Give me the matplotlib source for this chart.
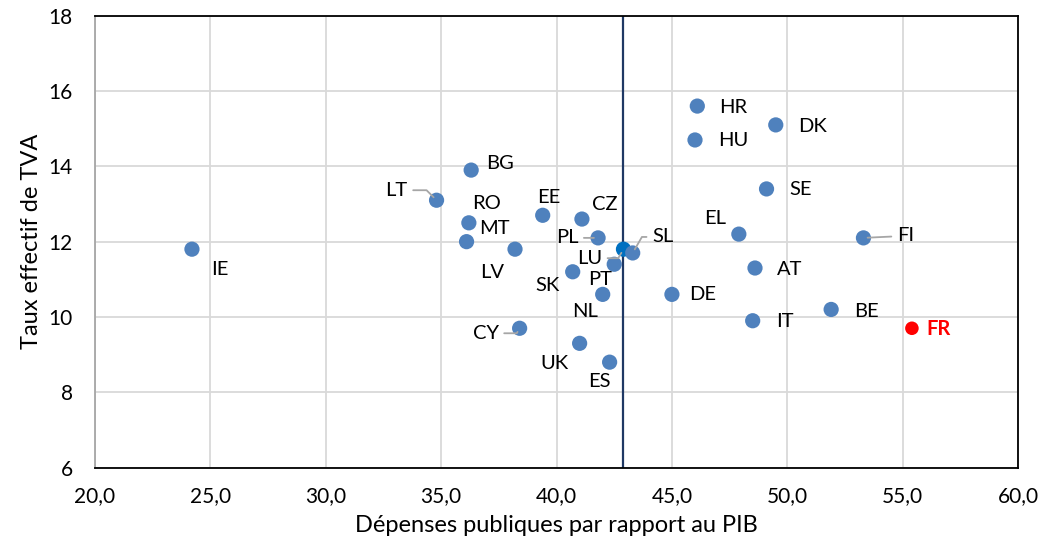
import matplotlib
matplotlib.use('Agg')

import matplotlib.pyplot as plt
from matplotlib.ticker import FuncFormatter, MultipleLocator

# Countries, public spending (% GDP) and effective VAT rate
countries = ['IE', 'LT', 'BG', 'RO', 'MT', 'LV', 'EE', 'CZ', 'PL', 'LU',
             'SL', 'PT', 'SK', 'NL', 'DE', 'CY', 'UK', 'ES', 'HR', 'HU',
             'DK', 'SE', 'EL', 'FI', 'AT', 'BE', 'IT', 'FR']
depenses = [24.2, 34.8, 36.3, 36.2, 36.1, 38.2, 39.4, 41.1, 41.8, 42.9,
            43.3, 42.5, 40.7, 42.0, 45.0, 38.4, 41.0, 42.3, 46.1, 46.0,
            49.5, 49.1, 47.9, 53.3, 48.6, 51.9, 48.5, 55.4]
taux_tva = [11.8, 13.1, 13.9, 12.5, 12.0, 11.8, 12.7, 12.6, 12.1, 11.8,
            11.7, 11.4, 11.2, 10.6, 10.6, 9.7, 9.3, 8.8, 15.6, 14.7,
            15.1, 13.4, 12.2, 12.1, 11.3, 10.2, 9.9, 9.7]
moyenne_ue = 42.9

# label offsets in pixels (dx, dy with dy downward), leader line angle at the point (None = no line)
label_offsets = {
    'IE': (28, 20, None), 'LT': (-40, -10, -45), 'BG': (29, -7, None),
    'RO': (18, -19, None), 'MT': (28, -13, None), 'LV': (-23, 23, None),
    'EE': (6, -18, None), 'CZ': (23, -15, None), 'PL': (-31, 0, 'straight'),
    'LU': (-34, 9, 60), 'SL': (30, -16, 60), 'PT': (-14, 15, None),
    'SK': (-25, 14, None), 'NL': (-18, 17, None), 'DE': (31, 0, None),
    'CY': (-34, 5, 60), 'UK': (-25, 20, None), 'ES': (-10, 19, None),
    'HR': (36, 1, None), 'HU': (38, 1, None), 'DK': (37, 2, None),
    'SE': (34, 1, None), 'EL': (-24, -16, None), 'FI': (42, -2, 'straight'),
    'AT': (35, 1, None), 'BE': (35, 2, None), 'IT': (32, 1, None),
    'FR': (27, 1, None),
}

plt.rcParams['font.family'] = ['Lato', 'DejaVu Sans']

fig = plt.figure(figsize=(10.49, 5.45), dpi=100)
ax = fig.add_axes([0.0906, 0.142, 0.8799, 0.8292])

blue = '#4F81BD'
colors = []
sizes = []
for c in countries:
    if c == 'FR':
        colors.append('#FF0000')
        sizes.append(95)
    elif c == 'LU':
        colors.append('#0070C0')
        sizes.append(120)
    else:
        colors.append(blue)
        sizes.append(120)

ax.axvline(moyenne_ue, color='#1F3864', lw=1.6, zorder=2)
ax.scatter(depenses, taux_tva, s=sizes, c=colors, linewidths=0, zorder=3)

for c, x, y in zip(countries, depenses, taux_tva):
    dx, dy, leader = label_offsets[c]
    is_fr = c == 'FR'
    kw = {}
    if leader is not None:
        if leader == 'straight':
            style = 'arc3'
        else:
            style = 'angle,angleA=0,angleB={},rad=0'.format(leader)
        kw['arrowprops'] = dict(arrowstyle='-', color='#A6A6A6', lw=1.3,
                                shrinkA=2, shrinkB=3, connectionstyle=style)
    ax.annotate(c, (x, y), xytext=(dx * 0.72, -dy * 0.72), textcoords='offset points',
                ha='center', va='center', fontsize=14.5,
                color='#FF0000' if is_fr else 'black',
                fontweight='bold' if is_fr else 'normal', zorder=4, **kw)

ax.set_xlim(20, 60)
ax.set_ylim(6, 18)
ax.xaxis.set_major_locator(MultipleLocator(5))
ax.yaxis.set_major_locator(MultipleLocator(2))
ax.xaxis.set_major_formatter(FuncFormatter(lambda v, p: '{:.1f}'.format(v).replace('.', ',')))
ax.grid(True, color='#D9D9D9', lw=1.3, zorder=0)
ax.set_axisbelow(True)
ax.tick_params(length=0, labelsize=15)
ax.tick_params(axis='x', pad=13.5)
ax.tick_params(axis='y', pad=16)

for side in ['top', 'right', 'bottom']:
    ax.spines[side].set_color('black')
    ax.spines[side].set_linewidth(1.3)
ax.spines['left'].set_color('#A6A6A6')
ax.spines['left'].set_linewidth(1.3)

ax.set_xlabel('Dépenses publiques par rapport au PIB', fontsize=17, labelpad=6)
ax.set_ylabel('Taux effectif de TVA', fontsize=17, labelpad=5)

fig.savefig('out.png', dpi=100)
